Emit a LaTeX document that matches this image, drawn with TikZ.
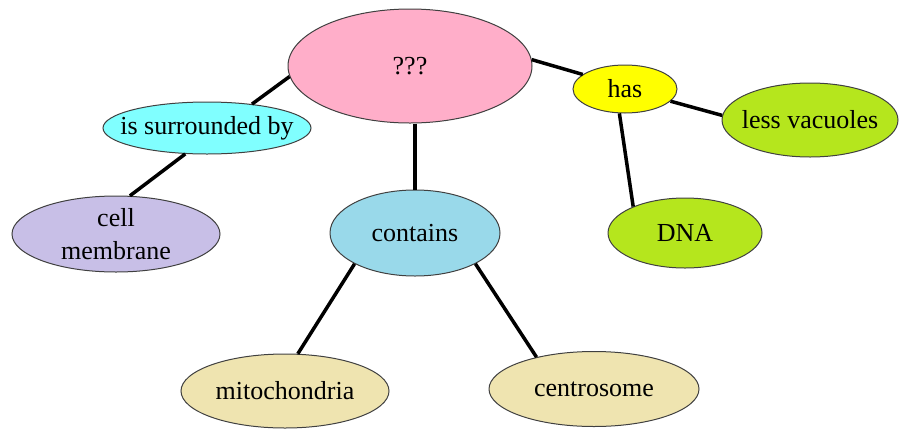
\documentclass[tikz,border=0pt]{standalone}
\usepackage{fontspec}
\setmainfont{Liberation Serif}
\usepackage{tikz}
\usetikzlibrary{shapes.geometric}
\definecolor{rose}{HTML}{FFAEC9}
\definecolor{aqua}{HTML}{80FFFF}
\definecolor{lemon}{HTML}{FFFF00}
\definecolor{lime}{HTML}{B5E61D}
\definecolor{lavender}{HTML}{C8BFE7}
\definecolor{turq}{HTML}{99D9EA}
\definecolor{sand}{HTML}{EFE4B0}

\begin{document}
\begin{tikzpicture}[
  x=1pt,y=-1pt,
  bub/.style={ellipse,draw=black!75,line width=1pt,inner xsep=-14pt,inner ysep=0pt,align=center,font=\fontsize{26}{33}\selectfont},
  link/.style={line width=3.5pt,draw=black}
]
\useasboundingbox (0,0) rectangle (899,429);
\node[bub,fill=rose,minimum width=244pt,minimum height=114pt] (qq) at (410,66) {???};
\node[bub,fill=aqua,minimum width=208pt,minimum height=52pt] (surr) at (207,128) {is surrounded by};
\node[bub,fill=lavender,minimum width=208pt,minimum height=76pt] (memb) at (116,234) {cell\\membrane};
\node[bub,fill=turq,minimum width=170pt,minimum height=86pt] (cont) at (415,233) {contains};
\node[bub,fill=lemon,minimum width=104pt,minimum height=48pt] (has) at (625,89) {has};
\node[bub,fill=lime,minimum width=176pt,minimum height=74pt] (vac) at (810,120) {less vacuoles};
\node[bub,fill=lime,minimum width=154pt,minimum height=70pt] (dna) at (685,233) {DNA};
\node[bub,fill=sand,minimum width=208pt,minimum height=74pt] (mito) at (285,391) {mitochondria};
\node[bub,fill=sand,minimum width=210pt,minimum height=75pt] (centro) at (594,389) {centrosome};
\draw[link] (qq.185) -- (surr.28);
\draw[link] (surr.230) -- (memb.70);
\draw[link] (qq.south -| cont.north) -- (cont.north);
\draw[link] (qq.3) -- (has.161);
\draw[link] (has.345) -- (vac.177);
\draw[link] (has.257) -- (dna.153);
\draw[link] (cont.207) -- (mito.71);
\draw[link] (cont.333) -- (centro.151);
\end{tikzpicture}
\end{document}
